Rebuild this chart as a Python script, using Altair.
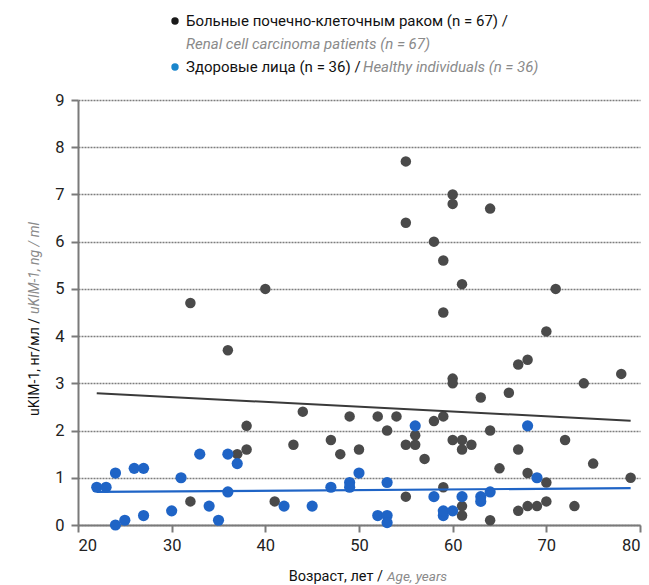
import altair as alt
import pandas as pd

# ---- data ----
cancer_age = [32, 40, 55, 60, 60, 64, 55, 58, 59, 61, 71, 59, 70, 36, 38, 38, 37, 32, 41, 44,
              43, 47, 48, 49, 50, 52, 53, 54, 55, 56, 56, 55, 57, 58, 59, 59, 60, 60, 60, 61,
              61, 62, 61, 61, 63, 64, 64, 65, 66, 67, 68, 67, 68, 67, 68, 69, 70, 70, 72, 73,
              74, 75, 78, 79]
cancer_kim = [4.7, 5.0, 7.7, 7.0, 6.8, 6.7, 6.4, 6.0, 5.6, 5.1, 5.0, 4.5, 4.1, 3.7, 2.1, 1.6, 1.5, 0.5, 0.5, 2.4,
              1.7, 1.8, 1.5, 2.3, 1.6, 2.3, 2.0, 2.3, 1.7, 1.7, 1.9, 0.6, 1.4, 2.2, 2.3, 0.8, 3.1, 3.0, 1.8, 1.8,
              1.6, 1.7, 0.4, 0.2, 2.7, 2.0, 0.1, 1.2, 2.8, 3.4, 3.5, 1.6, 1.1, 0.3, 0.4, 0.4, 0.9, 0.5, 1.8, 0.4,
              3.0, 1.3, 3.2, 1.0]
healthy_age = [22, 23, 24, 24, 25, 26, 27, 27, 30, 31, 33, 34, 35, 36, 36, 37, 42, 45, 47, 49,
               49, 50, 52, 53, 53, 53, 56, 58, 59, 59, 60, 61, 63, 63, 64, 68, 69]
healthy_kim = [0.8, 0.8, 1.1, 0.0, 0.1, 1.2, 1.2, 0.2, 0.3, 1.0, 1.5, 0.4, 0.1, 1.5, 0.7, 1.3, 0.4, 0.4, 0.8, 0.9,
               0.8, 1.1, 0.2, 0.2, 0.05, 0.9, 2.1, 0.6, 0.2, 0.3, 0.3, 0.6, 0.6, 0.5, 0.7, 2.1, 1.0]
trend_age = [22, 79]
cancer_trend = [2.79, 2.21]
healthy_trend = [0.70, 0.78]

x_ticks = [20, 30, 40, 50, 60, 70, 80]
y_ticks = [0, 1, 2, 3, 4, 5, 6, 7, 8, 9]

legend_cancer_ru = "Больные почечно-клеточным раком (n = 67) /"
legend_cancer_en = "Renal cell carcinoma patients (n = 67)"
legend_healthy_ru = "Здоровые лица (n = 36) /"
legend_healthy_en = "Healthy individuals (n = 36)"
x_title_ru = "Возраст, лет /"
x_title_en = "Age, years"
y_title_ru = "uKIM-1, нг/мл /"
y_title_en = "uKIM-1, ng / ml"

DARK = "#4a4a4a"
BLUE = "#1f64c6"
GREY_TXT = "#8a8a8a"
FONT = "Roboto"

W, H = 562, 425

cancer = pd.DataFrame({"age": cancer_age, "kim": cancer_kim})
healthy = pd.DataFrame({"age": healthy_age, "kim": healthy_kim})
trend = pd.DataFrame({"age": trend_age, "cancer": cancer_trend, "healthy": healthy_trend})

xs = alt.Scale(domain=[20, 80], nice=False, zero=False)
ys = alt.Scale(domain=[0, 9], nice=False)

x_axis = alt.Axis(values=x_ticks, title=None, grid=False, labelFontSize=16.5, labelFont=FONT,
                  labelColor="#222", tickSize=7, tickWidth=2, tickColor="#7a7a7a",
                  domainColor="#7a7a7a", domainWidth=2, labelPadding=5)
y_axis = alt.Axis(values=y_ticks, title=None, grid=True, gridDash=[2, 1], gridColor="#7d7d7d",
                  gridWidth=1.6, labelFontSize=16.5, labelFont=FONT, labelColor="#222",
                  tickSize=7, tickWidth=2, tickColor="#7a7a7a", domainColor="#7a7a7a",
                  domainWidth=2, labelPadding=7)

base_x = alt.X("age:Q", scale=xs, axis=x_axis)
base_y = alt.Y("kim:Q", scale=ys, axis=y_axis)

dark_pts = alt.Chart(cancer).mark_circle(size=110, opacity=1, color=DARK).encode(x=base_x, y=base_y)
blue_pts = alt.Chart(healthy).mark_circle(size=125, opacity=1, color=BLUE).encode(
    x=alt.X("age:Q", scale=xs), y=alt.Y("kim:Q", scale=ys))
dark_line = alt.Chart(trend).mark_line(color="#3a3a3a", strokeWidth=2).encode(
    x=alt.X("age:Q", scale=xs), y=alt.Y("cancer:Q", scale=ys))
blue_line = alt.Chart(trend).mark_line(color=BLUE, strokeWidth=2.2).encode(
    x=alt.X("age:Q", scale=xs), y=alt.Y("healthy:Q", scale=ys))

one = pd.DataFrame({"k": [0]})


def txt(s, x, y, color="#111", italic=False, align="left", angle=0, size=15):
    kw = dict(align=align, baseline="middle", font=FONT, fontSize=size, color=color)
    if italic:
        kw["fontStyle"] = "italic"
    if angle:
        kw["angle"] = angle
    return alt.Chart(one).mark_text(**kw).encode(
        x=alt.value(x), y=alt.value(y), text=alt.value(s))


def dot(x, y, color):
    return alt.Chart(one).mark_circle(size=55, opacity=1, color=color).encode(
        x=alt.value(x), y=alt.value(y))


OX, OY = 78, 100  # plot origin on the page
annotations = [
    dot(175 - OX, 21 - OY, "#1a1a1a"),
    txt(legend_cancer_ru, 186 - OX, 21 - OY, size=15),
    txt(legend_cancer_en, 186 - OX, 44 - OY, GREY_TXT, True, size=15),
    dot(175 - OX, 67 - OY, "#1a86cc"),
    txt(legend_healthy_ru, 186 - OX, 67 - OY, size=15),
    txt(legend_healthy_en, 363 - OX, 67 - OY, GREY_TXT, True, size=15),
    txt(x_title_ru, 383 - OX, 577 - OY, align="right", size=14.5),
    txt(x_title_en, 387 - OX, 577 - OY, GREY_TXT, True, size=13.5),
    txt(y_title_ru, 35 - OX, 318 - OY, align="right", angle=270, size=14),
    txt(y_title_en, 35 - OX, 314 - OY, GREY_TXT, True, align="left", angle=270, size=14),
]

chart = alt.layer(dark_pts, blue_pts, dark_line, blue_line, *annotations).properties(
    width=W, height=H,
    autosize=alt.AutoSizeParams(type="none"),
    padding={"left": OX, "top": OY, "right": 649 - OX - W, "bottom": 585 - OY - H},
    background="white",
).configure_view(stroke=None)

chart.save("out.html", embed_options={"renderer": "svg", "actions": False})
